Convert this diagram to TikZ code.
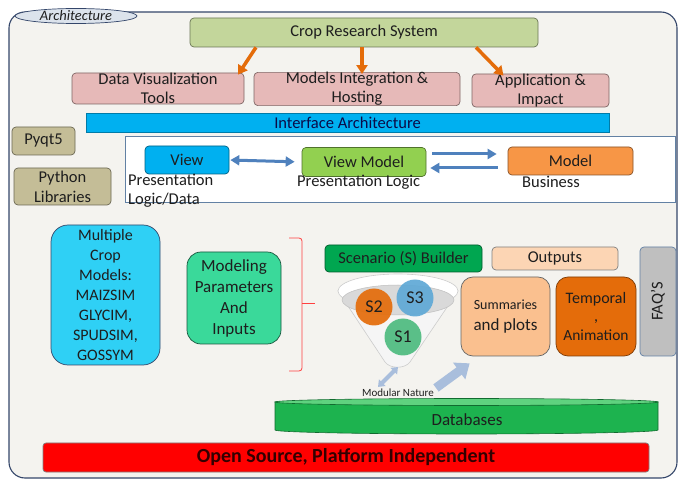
\documentclass[tikz,border=0pt]{standalone}
\usepackage{fontspec}
\setmainfont{Carlito}
\usepackage{xcolor}
\usetikzlibrary{arrows.meta,positioning,calc}

\definecolor{ink}{HTML}{1E1E1E}
\definecolor{framebg}{HTML}{F4F3EF}
\definecolor{frameln}{HTML}{34466A}
\definecolor{tagbg}{HTML}{DCE3EC}
\definecolor{olive}{HTML}{C3D69B}
\definecolor{rose}{HTML}{E6B9B8}
\definecolor{sky}{HTML}{00B0F0}
\definecolor{tan}{HTML}{C4BD97}
\definecolor{lime}{HTML}{92D050}
\definecolor{amber}{HTML}{F79646}
\definecolor{cyanbx}{HTML}{2FD0F5}
\definecolor{mint}{HTML}{3AD99A}
\definecolor{leaf}{HTML}{00A650}
\definecolor{peach}{HTML}{FCD5B4}
\definecolor{apricot}{HTML}{FAC08F}
\definecolor{rust}{HTML}{E46C0A}
\definecolor{steel}{HTML}{4F81BD}
\definecolor{haze}{HTML}{A9BEDC}
\definecolor{dbgreen}{HTML}{1DB34F}
\definecolor{dbtop}{HTML}{5FD27F}
\definecolor{faqgray}{HTML}{BFBFBF}
\definecolor{scenblue}{HTML}{5FA9D6}
\definecolor{scengreen}{HTML}{4DBB7F}

\tikzset{
  box/.style={draw=#1!55!black,fill=#1,rounded corners=4pt,line width=0.7pt,
    align=center,inner sep=0pt,text=ink},
  box/.default=olive,
  sizebox/.style 2 args={minimum width=#1,minimum height=#2},
  lbl/.style={anchor=west,align=left,inner sep=0pt,text=ink},
  toparrow/.style={draw=rust,line width=3.5pt,-{Triangle[width=11pt,length=9pt]}},
  mvarrow/.style={draw=steel,line width=3pt,-{Triangle[width=10pt,length=9pt]}},
  scen/.style={circle,minimum size=37pt,inner sep=0pt,text=ink,
    font=\fontsize{18}{18}\selectfont,opacity=0.92,text opacity=1},
}

\begin{document}
\begin{tikzpicture}[x=1pt,y=-1pt,font=\fontsize{16.5}{19}\selectfont]
  \useasboundingbox (0,0) rectangle (681,481);
  % outer frame
  \draw[frameln,fill=framebg,line width=1.1pt,rounded corners=16pt] (9,12) rectangle (677,478);
  \draw[frameln,fill=tagbg,line width=0.7pt] (76,16) ellipse [x radius=61,y radius=7.5];
  \node[text=ink,inner sep=0pt] (arch) at (76,16) {\fontsize{14.5}{14}\selectfont\itshape Architecture};

  % top layer
  \node[box=olive,sizebox={348pt}{29pt}] (crs) at (364,32.5) {Crop Research System};
  \node[box=rose,sizebox={172pt}{31pt}] (dvt) at (158,88.5) {Data Visualization\\Tools};
  \node[box=rose,sizebox={206pt}{32pt}] (mih) at (357,89) {Models Integration \&\\Hosting};
  \node[box=rose,sizebox={137pt}{33pt}] (app) at (540.5,90.5) {Application \&\\Impact};
  \node[fill=sky,draw=sky!70!black,line width=0.4pt,inner sep=0pt,sizebox={523pt}{19pt},
    text=ink!60!blue!60!black] (iface) at (347.5,122.5) {Interface Architecture};

  \draw[toparrow] ([xshift=-108pt]crs.south) -- ([xshift=80pt,yshift=-2pt]dvt.north);
  \draw[toparrow] ([xshift=-2pt]crs.south) -- ([xshift=5pt,yshift=-2pt]mih.north);
  \draw[toparrow] ([xshift=112pt]crs.south) -- ([xshift=-37pt,yshift=-2pt]app.north);

  % libraries
  \node[box=tan,sizebox={63pt}{28pt}] (pyqt) at (43.5,141) {Pyqt5};
  \node[box=tan,sizebox={97pt}{37pt},font=\fontsize{16.5}{20}\selectfont] (pylib) at (62.5,186.5) {Python\\Libraries};

  % MVVM strip
  \draw[steel!60!gray,fill=white,line width=0.8pt] (125,136) rectangle (675,202);
  \node[box=sky,sizebox={84pt}{28pt}] (view) at (187,160) {View};
  \node[box=lime,sizebox={124pt}{29pt}] (vm) at (364,162) {View Model};
  \node[box=amber,sizebox={125pt}{28pt}] (model) at (570.5,161) {Model};
  \node[lbl] (viewtxt) at (128,191) {Presentation\\Logic/Data};
  \node[lbl] (vmtxt) at (297,182) {Presentation Logic};
  \node[lbl] (modeltxt) at (522,182) {Business};

  \draw[mvarrow,{Triangle[width=10pt,length=9pt]}-{Triangle[width=10pt,length=9pt]},
    shorten <=1pt,shorten >=7pt] (view.east) -- (vm.west);
  \draw[mvarrow,shorten <=6pt,shorten >=11pt] ([yshift=8pt]vm.east) -- ([yshift=7pt]model.west);
  \draw[mvarrow,shorten <=10pt,shorten >=4pt] ([yshift=-7pt]model.west) -- ([yshift=-6pt]vm.east);

  % models and inputs
  \node[box=cyanbx,draw=frameln,rounded corners=17pt,sizebox={109pt}{140pt},
    font=\fontsize{16}{20}\selectfont] (mcm) at (105.5,295)
    {Multiple\\Crop\\Models:\\MAIZSIM\\GLYCIM,\\SPUDSIM,\\GOSSYM};
  \node[box=mint,draw=mint!40!black,rounded corners=14pt,sizebox={94pt}{92pt},
    font=\fontsize{17}{21}\selectfont] (mpi) at (234,298)
    {Modeling\\Parameters\\And\\Inputs};
  \draw[red!75!white,line width=0.8pt,rounded corners=3pt]
    (289,238) -- (302,238) -- (302,371) -- (289,371);
  \draw[red!75!white,line width=0.8pt] (302,303) -- (315,303);

  % scenario builder and funnel
  \node[box=leaf,sizebox={157pt}{27pt}] (ssb) at (403.5,258.5) {Scenario (S) Builder};
  \filldraw[draw=gray!40,fill=white!92!gray,line width=0.6pt]
    (338,291) -- (385,362) .. controls (390,369) and (405,369) .. (410,362) -- (458,291) -- cycle;
  \filldraw[draw=gray!40,fill=white,line width=0.6pt] (398,291) ellipse [x radius=60,y radius=17];
  \filldraw[draw=gray!50,fill=gray!30,line width=0.5pt] (398,300) ellipse [x radius=56,y radius=15];
  \coordinate (fbot) at (398,367);
  \node[scen,fill=scenblue] (s3) at (415,298) {S3};
  \node[scen,fill=scengreen] (s1) at (403,337) {S1};
  \node[scen,fill=rust] (s2) at (374,307) {S2};

  % outputs
  \node[box=peach,draw=gray,sizebox={126pt}{23pt}] (out) at (555,258.5) {Outputs};
  \node[box=apricot,draw=gray!80!black,rounded corners=12pt,sizebox={89pt}{79pt}] (sum)
    at (505.5,316.5) {{\fontsize{14}{16}\selectfont Summaries}\\[2pt]{\fontsize{17}{18}\selectfont and plots}};
  \node[box=rust,rounded corners=12pt,sizebox={80pt}{79pt},font=\fontsize{16}{18.5}\selectfont] (temp) at (596,316.5)
    {Temporal\\,\\{\fontsize{15.5}{17}\selectfont Animation}};
  \node[box=faqgray,draw=steel!60!gray,sizebox={36pt}{109pt}] (faq) at (658,301.5)
    {\rotatebox{90}{FAQ'S}};

  % modular nature
  \node[text=ink,inner sep=1pt] (mn) at (398,393) {\fontsize{11}{12}\selectfont Modular Nature};
  \draw[haze,line width=4pt,{Triangle[width=9pt,length=6pt]}-{Triangle[width=9pt,length=6pt]}]
    ([xshift=-20pt,yshift=1pt]mn.north) -- (fbot);
  \draw[haze,line width=9pt,-{Triangle[width=20pt,length=13pt]}]
    ([xshift=38pt,yshift=0pt]mn.north) -- ([xshift=9pt,yshift=-7pt]sum.south west);

  % databases
  \fill[dbgreen,draw=dbgreen!60!black,line width=0.6pt]
    (275,402) -- (275,430) arc[start angle=180,end angle=0,x radius=191.5,y radius=4] -- (658,402) -- cycle;
  \filldraw[fill=dbtop,draw=dbgreen!60!black,line width=0.6pt] (466.5,402) ellipse [x radius=191.5,y radius=3.5];
  \node[text=ink,font=\fontsize{17}{18}\selectfont] (db) at (467,420) {Databases};

  % base
  \node[box=red,draw=gray,rounded corners=3pt,sizebox={606pt}{29pt},
    font=\fontsize{20}{20}\selectfont\bfseries,text=red!20!black] (os) at (346,457.5)
    {Open Source, Platform Independent};
\end{tikzpicture}
\end{document}
